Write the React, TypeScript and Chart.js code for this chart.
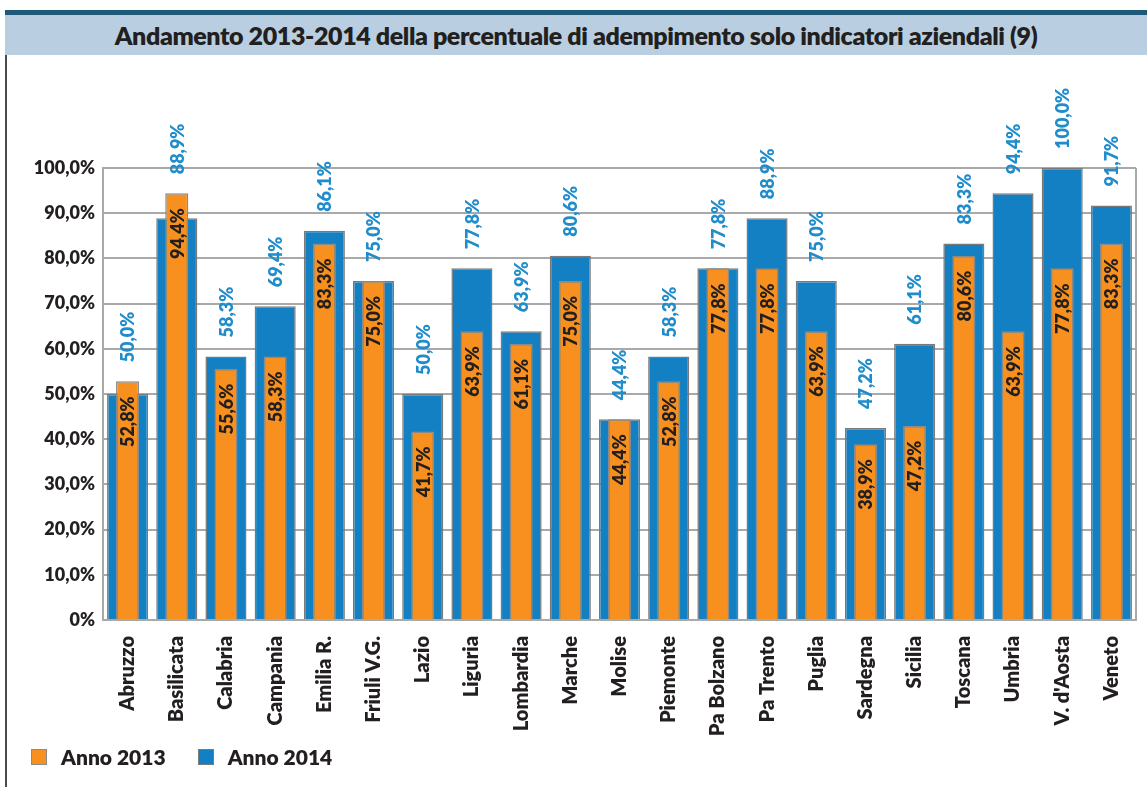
import React, { useEffect, useRef } from "react";
import { Chart, registerables } from "chart.js";

Chart.register(...registerables);

const TITLE = "Andamento 2013-2014 della percentuale di adempimento solo indicatori aziendali (9)";

const regions = [
  "Abruzzo", "Basilicata", "Calabria", "Campania", "Emilia R.", "Friuli V.G.", "Lazio",
  "Liguria", "Lombardia", "Marche", "Molise", "Piemonte", "Pa Bolzano", "Pa Trento",
  "Puglia", "Sardegna", "Sicilia", "Toscana", "Umbria", "V. d'Aosta", "Veneto",
];

// bar heights as drawn
const values2013 = [52.8, 94.4, 55.6, 58.3, 83.3, 75.0, 41.7, 63.9, 61.1, 75.0, 44.4, 52.8, 77.8, 77.8, 63.9, 38.9, 43.0, 80.6, 63.9, 77.8, 83.3];
const values2014 = [50.0, 88.9, 58.3, 69.4, 86.1, 75.0, 50.0, 77.8, 63.9, 80.6, 44.4, 58.3, 77.8, 88.9, 75.0, 42.5, 61.1, 83.3, 94.4, 100.0, 91.7];

// printed value labels
const labels2013 = [52.8, 94.4, 55.6, 58.3, 83.3, 75.0, 41.7, 63.9, 61.1, 75.0, 44.4, 52.8, 77.8, 77.8, 63.9, 38.9, 47.2, 80.6, 63.9, 77.8, 83.3];
const labels2014 = [50.0, 88.9, 58.3, 69.4, 86.1, 75.0, 50.0, 77.8, 63.9, 80.6, 44.4, 58.3, 77.8, 88.9, 75.0, 47.2, 61.1, 83.3, 94.4, 100.0, 91.7];

const seriesNames = ["Anno 2013", "Anno 2014"];

const ORANGE = "#f7901e";
const BLUE = "#1280c2";
const BLUE_TEXT = "#1f8ccb";
const DARK = "#231f20";
const FONT = "Lato, 'Open Sans', sans-serif";

const fmt = (v: number) => v.toFixed(1).replace(".", ",") + "%";

const labelPlugin = {
  id: "valueLabels",
  afterDatasetsDraw(chart: any) {
    const ctx = chart.ctx;
    const m0 = chart.getDatasetMeta(0);
    const m1 = chart.getDatasetMeta(1);
    ctx.save();
    ctx.font = `800 18px ${FONT}`;
    ctx.textBaseline = "middle";
    for (let i = 0; i < regions.length; i++) {
      const e0 = m0.data[i];
      const e1 = m1.data[i];
      const topY = Math.min(e0.y, e1.y) - 19;
      ctx.save();
      ctx.translate(e1.x, topY);
      ctx.rotate(-Math.PI / 2);
      ctx.textAlign = "left";
      ctx.fillStyle = BLUE_TEXT;
      ctx.fillText(fmt(labels2014[i]), 0, 1);
      ctx.restore();
      ctx.save();
      ctx.translate(e0.x, e0.y + 15);
      ctx.rotate(-Math.PI / 2);
      ctx.textAlign = "right";
      ctx.fillStyle = DARK;
      ctx.fillText(fmt(labels2013[i]), 0, 1);
      ctx.restore();
    }
    ctx.restore();
  },
  beforeDatasetsDraw(chart: any) {
    const { ctx, chartArea } = chart;
    ctx.save();
    ctx.strokeStyle = "#a9a9a9";
    ctx.lineWidth = 2;
    ctx.beginPath();
    ctx.moveTo(chartArea.right, chartArea.top);
    ctx.lineTo(chartArea.right, chartArea.bottom);
    ctx.stroke();
    ctx.restore();
  },
};

export default function App() {
  const ref = useRef<HTMLCanvasElement>(null);

  useEffect(() => {
    document.body.style.margin = "0";
    const chart = new Chart(ref.current as HTMLCanvasElement, {
      type: "bar",
      data: {
        labels: regions,
        datasets: [
          {
            label: seriesNames[0],
            data: values2013,
            backgroundColor: ORANGE,
            borderColor: "#8a8a8a",
            borderWidth: 1.5,
            grouped: false,
            barPercentage: 0.47,
            categoryPercentage: 1,
          },
          {
            label: seriesNames[1],
            data: values2014,
            backgroundColor: BLUE,
            borderColor: "#7a7a7a",
            borderWidth: 1.5,
            grouped: false,
            barPercentage: 0.835,
            categoryPercentage: 1,
          },
        ],
      },
      options: {
        animation: false,
        responsive: false,
        maintainAspectRatio: false,
        layout: { padding: { top: 108, right: 11, left: 0, bottom: 0 } },
        plugins: {
          legend: { display: false },
          tooltip: { enabled: false },
          title: { display: false },
        },
        scales: {
          x: {
            grid: { display: false },
            border: { display: true, color: "#a9a9a9", width: 2 },
            ticks: {
              minRotation: 90,
              maxRotation: 90,
              autoSkip: false,
              padding: 8,
              color: DARK,
              font: { family: FONT, size: 20, weight: "800" },
            },
            afterFit: (s: any) => { s.height = 125; },
          },
          y: {
            min: 0,
            max: 100,
            grid: { color: "#a9a9a9", lineWidth: 2, drawTicks: false },
            border: { display: true, color: "#a9a9a9", width: 2 },
            ticks: {
              stepSize: 10,
              padding: 8,
              color: DARK,
              font: { family: FONT, size: 18, weight: "800" },
              callback: (v: any) => (Number(v) === 0 ? "0%" : fmt(Number(v))),
            },
            afterFit: (s: any) => { s.width = 96; },
          },
        },
      },
      plugins: [labelPlugin],
    });
    return () => chart.destroy();
  }, []);

  return (
    <div style={{ position: "absolute", left: 0, top: 0, width: 1147, height: 787, background: "#fff", overflow: "hidden", fontFamily: FONT }}>
      <div style={{ position: "absolute", left: 5, top: 10, width: 2, height: 777, background: "#4a4a4a" }} />
      <div
        style={{
          position: "absolute", left: 5, top: 10, width: 1142, height: 40,
          borderTop: "5px solid #1e5a78", background: "#b9cfe1",
          display: "flex", alignItems: "center", justifyContent: "center",
          color: DARK, fontWeight: 800, fontSize: 25, letterSpacing: -0.4,
          paddingRight: 6, boxSizing: "content-box",
        }}
      >
        {TITLE}
      </div>
      <canvas ref={ref} width={1140} height={685} style={{ position: "absolute", left: 7, top: 60, width: 1140, height: 685 }} />
      <div style={{ position: "absolute", left: 31, top: 744, display: "flex", alignItems: "center", fontWeight: 800, fontSize: 21, color: DARK }}>
        <span style={{ display: "inline-block", width: 14, height: 14, background: ORANGE, border: "1px solid #8a8a8a", marginRight: 14 }} />
        <span style={{ marginRight: 32 }}>{seriesNames[0]}</span>
        <span style={{ display: "inline-block", width: 14, height: 14, background: BLUE, border: "1px solid #7a7a7a", marginRight: 14 }} />
        <span>{seriesNames[1]}</span>
      </div>
    </div>
  );
}
